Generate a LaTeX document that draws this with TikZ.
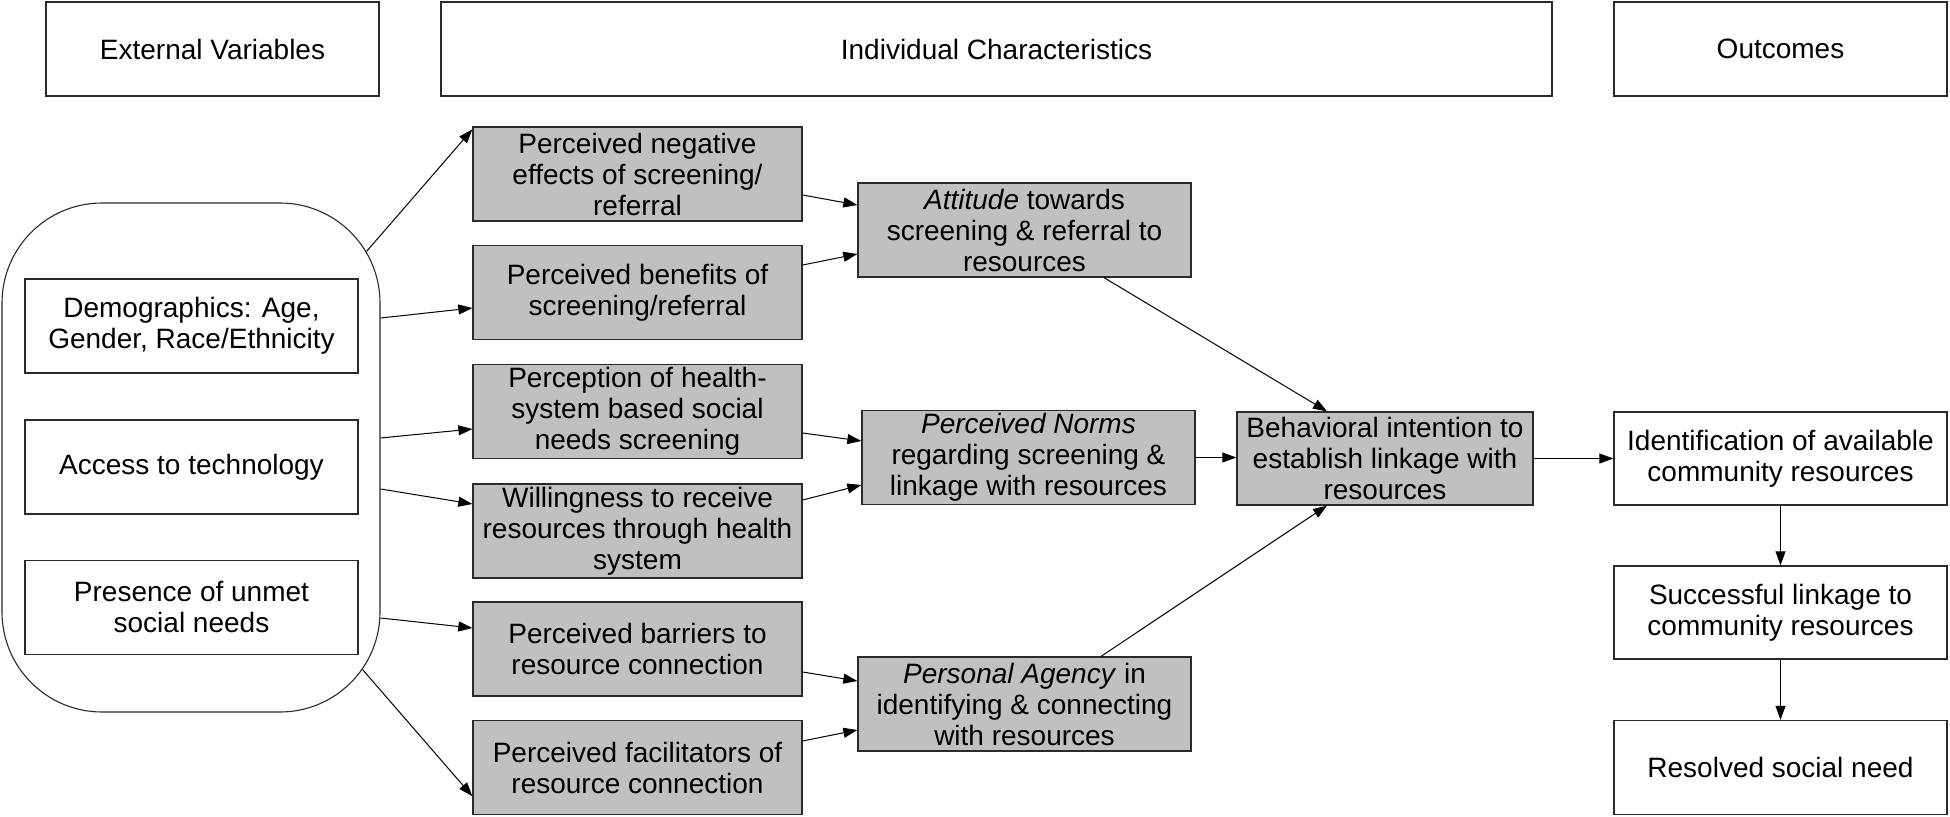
\documentclass[tikz,border=0pt]{standalone}
\usepackage{fontspec}
\setmainfont{Liberation Sans}
\usetikzlibrary{arrows.meta,calc}
\definecolor{snFill}{HTML}{C0C0C0}
\definecolor{snInk}{HTML}{000000}
\definecolor{snLine}{HTML}{2A2A2A}
\tikzset{
  sn diagram/.style={font=\fontsize{14}{15.5}\selectfont, text=snInk,
    x=0.5pt, y=-0.5pt},
  sn box/.style={draw=snLine, fill=white, line width=0.65pt,
    align=center, inner sep=1pt, minimum height=47pt},
  sn key box/.style={sn box, fill=snFill, minimum width=164.5pt},
  sn mid box/.style={sn key box, minimum width=166.5pt},
  sn group/.style={draw=snLine, line width=0.55pt, rounded corners=50pt},
  sn arrow/.style={-{Triangle[length=7pt,width=5pt]}, draw=snInk, line width=0.5pt}
}
\begin{document}
\begin{tikzpicture}[sn diagram]
\useasboundingbox (0,0) rectangle (1950,817);
% headings
\node[sn box, minimum width=166.5pt] (extvar) at (212.5,49) {External Variables};
\node[sn box, minimum width=555.5pt] (indiv) at (996.5,49) {Individual Characteristics};
\node[sn box, minimum width=166.5pt] (outc) at (1780.5,49) {Outcomes};
% external variables
\node[sn group, minimum width=189pt, minimum height=254.5pt] (ext) at (191,457.5) {};
\node[sn box, minimum width=166.5pt] (demo) at (191.5,326) {Demographics: Age,\\Gender, Race/Ethnicity};
\node[sn box, minimum width=166.5pt] (tech) at (191.5,467) {Access to technology};
\node[sn box, minimum width=166.5pt] (unmet) at (191.5,607.5) {Presence of unmet\\social needs};
% perceptions
\node[sn key box] (neg) at (637.5,174) {Perceived negative\\effects of screening/\\referral};
\node[sn key box] (ben) at (637.5,292.5) {Perceived benefits of\\screening/referral};
\node[sn key box] (hsys) at (637.5,411.5) {Perception of health-\\system based social\\needs screening};
\node[sn key box] (will) at (637.5,531) {Willingness to receive\\resources through health\\system};
\node[sn key box] (barr) at (637.5,649) {Perceived barriers to\\resource connection};
\node[sn key box] (facil) at (637.5,767.5) {Perceived facilitators of\\resource connection};
% constructs
\node[sn mid box] (att) at (1024.5,230) {\textit{Attitude} towards\\screening \& referral to\\resources};
\node[sn mid box] (norms) at (1028.5,457.5) {\textit{Perceived Norms}\\regarding screening \&\\linkage with resources};
\node[sn mid box] (agency) at (1024.5,704) {\textit{Personal Agency} in\\identifying \& connecting\\with resources};
\node[sn key box, minimum width=148pt, minimum height=46.5pt] (intent) at (1385,458.5) {Behavioral intention to\\establish linkage with\\resources};
% outcomes
\node[sn box, minimum width=166.5pt, minimum height=46.5pt] (ident) at (1780.5,458.5) {Identification of available\\community resources};
\node[sn box, minimum width=166.5pt, minimum height=46.5pt] (link) at (1780.5,612.5) {Successful linkage to\\community resources};
\node[sn box, minimum width=166.5pt] (resolved) at (1780.5,767.5) {Resolved social need};

\draw[sn arrow] ($(ext.north east)+(-14,49)$) -- ($(neg.north west)+(0,3)$);
\draw[sn arrow] ($(ext.east |- demo.east)+(0,-8)$) -- ($(ben.west)+(0,15.5)$);
\draw[sn arrow] ($(ext.east |- tech.east)+(0,-29)$) -- ($(hsys.west)+(0,17.5)$);
\draw[sn arrow] ($(ext.east |- tech.east)+(0,22)$) -- ($(will.west)+(0,-27)$);
\draw[sn arrow] ($(ext.east |- unmet.east)+(0,10.5)$) -- ($(barr.west)+(0,-21)$);
\draw[sn arrow] ($(ext.south east)+(-18,-43)$) -- ($(facil.south west)+(0,-19)$);

\draw[sn arrow] ($(neg.east)+(0,21)$) -- ($(att.west)+(0,-25)$);
\draw[sn arrow] ($(ben.east)+(0,-27.5)$) -- ($(att.west)+(0,24)$);
\draw[sn arrow] ($(hsys.east)+(0,21.5)$) -- ($(norms.west)+(0,-16.5)$);
\draw[sn arrow] ($(will.east)+(0,-31)$) -- ($(norms.west)+(0,27.5)$);
\draw[sn arrow] ($(barr.east)+(0,23)$) -- ($(agency.west)+(0,-23)$);
\draw[sn arrow] ($(facil.east)+(0,-26.5)$) -- ($(agency.west)+(0,26)$);

\draw[sn arrow] ($(att.south)+(79.5,0)$) -- ($(intent.north)+(-58,0)$);
\draw[sn arrow] (norms.east) -- (intent.west |- norms.east);
\draw[sn arrow] ($(agency.north)+(76.5,0)$) -- ($(intent.south)+(-58,0)$);
\draw[sn arrow] (intent.east) -- (ident.west);
\draw[sn arrow] (ident.south) -- (link.north);
\draw[sn arrow] (link.south) -- (resolved.north);
\end{tikzpicture}
\end{document}
